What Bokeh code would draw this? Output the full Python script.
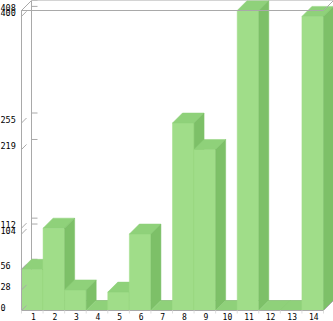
from bokeh.plotting import figure
from bokeh.models import Range1d, ColumnDataSource
from bokeh.core.properties import value
from bokeh.embed import file_html
from bokeh.resources import INLINE

# ---- data ----
categories = ["1", "2", "3", "4", "5", "6", "7", "8", "9", "10", "11", "12", "13", "14"]
values = [56, 112, 28, 0, 25, 104, 0, 255, 219, 0, 408, 0, 0, 400]
y_tick_labels = [0, 28, 56, 104, 112, 219, 255, 400, 408]

# ---- layout (pixel geometry) ----
W, H = 333, 321
X0 = 21          # left of front plane, px
Y0 = 11          # px above bottom where value 0 sits (front)
SX = 302 / len(categories)   # px per category slot
YMAX = max(values)
SY = 300 / YMAX              # px per value unit
DEPTH = 10                   # 3D depth, px

dx = DEPTH / SX
dy = DEPTH / SY
xs0 = 0.5 - X0 / SX
ys0 = -Y0 / SY

p = figure(width=W, height=H, x_range=Range1d(xs0, xs0 + W / SX),
           y_range=Range1d(ys0, ys0 + H / SY), min_border=0,
           x_axis_location=None, y_axis_location=None,
           toolbar_location=None, output_backend="svg")
p.grid.visible = False
p.outline_line_color = None
p.background_fill_color = "white"
p.border_fill_color = "white"

GREY = "#a9a9a9"
n = len(categories)
L, R = 0.5, n + 0.5

# back / floor lines (behind bars)
back_x = [[L + dx, L + dx], [R + dx, R + dx], [L + dx, R + dx], [L + dx, R + dx], [L, L + dx]]
back_y = [[dy, YMAX + dy], [dy, YMAX + dy], [YMAX + dy, YMAX + dy], [dy, dy], [0, dy]]
p.multi_line(back_x, back_y, line_color=GREY, line_width=1)

# back-wall ticks
p.segment(x0=[L + dx] * len(y_tick_labels), y0=[v + dy for v in y_tick_labels],
          x1=[L + dx + 6 / SX] * len(y_tick_labels), y1=[v + dy for v in y_tick_labels],
          line_color=GREY, line_width=1)

# bars: front, top, side for each, drawn left to right
FRONT, TOP, SIDE = "#a0dd89", "#8fd17a", "#7dc068"
pxs, pys, cols = [], [], []
for i, v in enumerate(values, start=1):
    l, r = i - 0.5, i + 0.5
    pxs.append([l, r, r, l]); pys.append([0, 0, v, v]); cols.append(FRONT)
    pxs.append([l, r, r + dx, l + dx]); pys.append([v, v, v + dy, v + dy]); cols.append(TOP)
    pxs.append([r, r + dx, r + dx, r]); pys.append([0, dy, v + dy, v]); cols.append(SIDE)
p.patches(xs="xs", ys="ys", fill_color="c", line_color="c", line_width=0.5,
          source=ColumnDataSource(dict(xs=pxs, ys=pys, c=cols)))

# front lines (in front of bars)
front_x = [[L, L], [L, R], [L, R], [L, L + dx], [R, R + dx], [R, R + dx]]
front_y = [[0, YMAX], [YMAX, YMAX], [0, 0], [YMAX, YMAX + dy], [YMAX, YMAX + dy], [0, dy]]
p.multi_line(front_x, front_y, line_color=GREY, line_width=1)

# front tick diagonals
p.segment(x0=[L] * len(y_tick_labels), y0=y_tick_labels,
          x1=[L + dx / 2] * len(y_tick_labels), y1=[v + dy / 2 for v in y_tick_labels],
          line_color=GREY, line_width=1)

# x ticks at slot boundaries
bx = [i + 0.5 for i in range(0, n + 1)]
p.segment(x0=bx, y0=[0] * len(bx), x1=bx, y1=[-3 / SY] * len(bx), line_color="#dddddd", line_width=1)

# y labels
p.text(x=[xs0] * len(y_tick_labels), y=y_tick_labels, text=[str(v) for v in y_tick_labels],
       text_font=value("DejaVu Sans Mono"), text_font_size="8.5px", text_align="left",
       text_baseline="middle", y_offset=-3.5, text_color="black")

# x labels
p.text(x=list(range(1, n + 1)), y=[0] * n, text=categories,
       text_font=value("DejaVu Sans Mono"), text_font_size="8px", text_align="center",
       text_baseline="middle", x_offset=1, y_offset=6, text_color="black")

open("out.html", "w").write(file_html(p, INLINE))
